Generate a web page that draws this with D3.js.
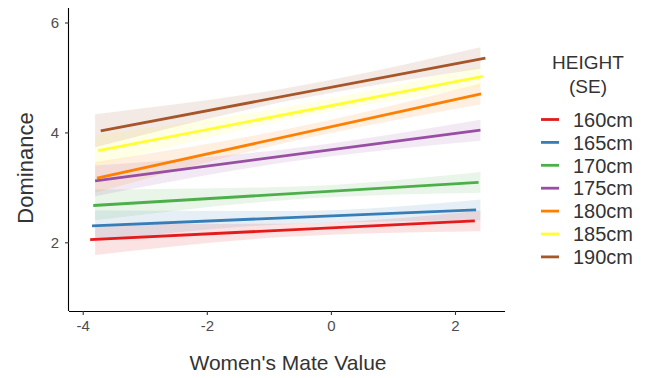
<!DOCTYPE html>
<html>
<head>
<meta charset="utf-8">
<script src="https://cdn.jsdelivr.net/npm/d3@7"></script>
<style>
  body { margin: 0; background: #fff; }
  text { font-family: "Liberation Sans", Arial, sans-serif; }
</style>
</head>
<body>
<svg id="chart" width="651" height="378"></svg>
<script>
// series
let heights = ["160cm", "165cm", "170cm", "175cm", "180cm", "185cm", "190cm"];
let colors = ["#E41A1C", "#377EB8", "#4DAF4A", "#984EA3", "#FF7F00", "#FFFF33", "#A65628"];

// fitted lines (start / end of each line)
let lineX0 = [-3.88, -3.85, -3.83, -3.80, -3.77, -3.75, -3.71];
let lineX1 = [2.32, 2.34, 2.38, 2.41, 2.42, 2.45, 2.49];
let lineY0 = [2.05, 2.30, 2.67, 3.12, 3.17, 3.67, 4.03];
let lineY1 = [2.39, 2.59, 3.09, 4.04, 4.70, 5.02, 5.35];

// SE ribbons: lower/upper at three x positions
let ribbonX = [-3.80, -0.70, 2.41];
let ribbonLow = [
    [1.77, 2.10, 2.20],
    [2.02, 2.33, 2.40],
    [2.40, 2.77, 2.90],
    [2.84, 3.46, 3.85],
    [2.90, 3.82, 4.51],
    [3.39, 4.23, 4.83],
    [3.73, 4.57, 5.16]
];
let ribbonHigh = [
    [2.33, 2.34, 2.58],
    [2.58, 2.57, 2.78],
    [2.96, 3.01, 3.28],
    [3.40, 3.70, 4.23],
    [3.46, 4.06, 4.89],
    [3.95, 4.47, 5.21],
    [4.33, 4.81, 5.55]
];

let xTicks = [-4, -2, 0, 2];
let yTicks = [2, 4, 6];

let svg = d3.select("#chart");

let plot = {left: 69, right: 505, top: 8, bottom: 311};

let x = d3.scaleLinear()
    .domain([-4.221, 2.806])
    .range([plot.left, plot.right]);

let y = d3.scaleLinear()
    .domain([0.75, 6.264])
    .range([plot.bottom, plot.top]);

// ribbons
let area = d3.area()
    .x(d => x(d.x))
    .y0(d => y(d.lo))
    .y1(d => y(d.hi))
    .curve(d3.curveMonotoneX);

let ribbons = svg.append("g");
heights.forEach((h, i) => {
    let pts = ribbonX.map((v, j) => ({x: v, lo: ribbonLow[i][j], hi: ribbonHigh[i][j]}));
    ribbons.append("path")
        .attr("d", area(pts))
        .attr("fill", colors[i])
        .attr("fill-opacity", 0.12);
});

// lines
let line = d3.line().x(d => x(d[0])).y(d => y(d[1]));
let lines = svg.append("g");
heights.forEach((h, i) => {
    lines.append("path")
        .attr("d", line([[lineX0[i], lineY0[i]], [lineX1[i], lineY1[i]]]))
        .attr("stroke", colors[i])
        .attr("stroke-width", 2.8)
        .attr("fill", "none");
});

// axes
let xAxis = svg.append("g")
    .attr("transform", `translate(0, ${plot.bottom})`)
    .call(d3.axisBottom(x).tickValues(xTicks).tickSize(4).tickPadding(5).tickFormat(d => String(d)));

let yAxis = svg.append("g")
    .attr("transform", `translate(${plot.left}, 0)`)
    .call(d3.axisLeft(y).tickValues(yTicks).tickSize(4).tickPadding(6).tickFormat(d => String(d)));

[xAxis, yAxis].forEach(a => {
    a.select(".domain").attr("stroke", "#000").attr("stroke-width", 1.1);
    a.selectAll(".tick line").attr("stroke", "#333").attr("stroke-width", 1.1);
    a.selectAll(".tick text")
        .attr("fill", "#4D4D4D")
        .style("font-size", "15px")
        .style("font-family", "Liberation Sans, Arial, sans-serif");
});
// drop the outer tick caps of the domain path
xAxis.select(".domain").attr("d", `M${plot.left},0.5H${plot.right}`);
yAxis.select(".domain").attr("d", `M-0.5,${plot.top}V${plot.bottom}`);

svg.append("text")
    .attr("x", 288)
    .attr("y", 370)
    .attr("text-anchor", "middle")
    .style("font-size", "21px")
    .attr("fill", "#333")
    .text("Women's Mate Value");

svg.append("text")
    .attr("transform", `translate(33, 168) rotate(-90)`)
    .attr("text-anchor", "middle")
    .style("font-size", "22px")
    .attr("fill", "#333")
    .text("Dominance");

// legend
let legend = svg.append("g");
legend.append("text")
    .attr("x", 588).attr("y", 69)
    .attr("text-anchor", "middle")
    .style("font-size", "19px")
    .attr("fill", "#333")
    .text("HEIGHT");
legend.append("text")
    .attr("x", 588).attr("y", 93)
    .attr("text-anchor", "middle")
    .style("font-size", "19px")
    .attr("fill", "#333")
    .text("(SE)");

heights.forEach((h, i) => {
    let cy = 119.5 + i * 22.9;
    legend.append("line")
        .attr("x1", 541).attr("x2", 559)
        .attr("y1", cy).attr("y2", cy)
        .attr("stroke", colors[i])
        .attr("stroke-width", 2.8);
    legend.append("text")
        .attr("x", 573).attr("y", cy)
        .attr("dy", "0.36em")
        .style("font-size", "20px")
        .attr("fill", "#333")
        .text(h);
});
</script>
</body>
</html>
